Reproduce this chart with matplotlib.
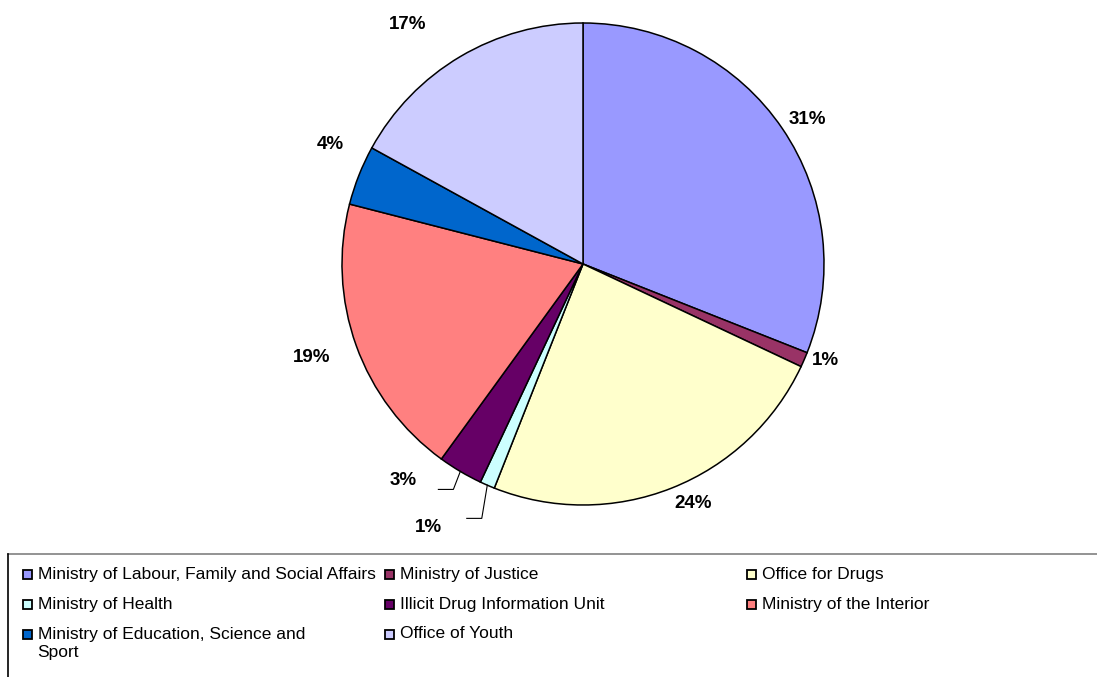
import numpy as np
import matplotlib.pyplot as plt
from matplotlib.patches import Rectangle

plt.rcParams['font.family'] = ['Liberation Sans', 'DejaVu Sans']

# budget shares by institution (%)
labels = [
    'Ministry of Labour, Family and Social Affairs',
    'Ministry of Justice',
    'Office for Drugs',
    'Ministry of Health',
    'Illicit Drug Information Unit',
    'Ministry of the Interior',
    'Ministry of Education, Science and\nSport',
    'Office of Youth',
]
shares = [31, 1, 24, 1, 3, 19, 4, 17]
colors = ['#9999FF', '#993366', '#FFFFCC', '#CCFFFF',
          '#660066', '#FF8080', '#0066CC', '#CCCCFF']

# label placement: radial distance (in radii) and clockwise nudge (deg)
lab_r = [1.107, 1.084, 1.092, 1.267, 1.167, 1.19, 1.159, 1.23]
lab_nudge = [1.3, -1.8, -3.1, 7.1, 9.2, 0.7, 3.7, -5.6]
# small slices get an elbow leader line: (radius, clockwise nudge)
leader = {3: (1.136, -1.7), 4: (1.079, -0.7)}

W, H = 1097, 677
fig = plt.figure(figsize=(W / 100, H / 100), dpi=100)
ax = fig.add_axes([0, 0, 1, 1])

cx, cy, R = 583, H - 264, 241
wedges, _ = ax.pie(shares, colors=colors, startangle=90, counterclock=False,
                   center=(cx, cy), radius=R,
                   wedgeprops=dict(edgecolor='black', linewidth=1.1))

for i, (w, v) in enumerate(zip(wedges, shares)):
    mid = np.deg2rad((w.theta1 + w.theta2) / 2)
    if i in leader:
        lr, ln = leader[i]
        b = mid - np.deg2rad(ln)
        ex, ey = cx + R * np.cos(mid), cy + R * np.sin(mid)
        kx, ky = cx + R * lr * np.cos(b), cy + R * lr * np.sin(b)
        ax.plot([ex, kx, kx - 15], [ey, ky, ky], color='black', lw=0.8)
    a = mid - np.deg2rad(lab_nudge[i])
    tx, ty = cx + R * lab_r[i] * np.cos(a), cy + R * lab_r[i] * np.sin(a)
    ax.text(tx, ty, f'{v}%', ha='center', va='center',
            fontsize=13.5, fontweight='bold')

# legend box, running off the right and bottom edges
ax.plot([8, W], [H - 554, H - 554], color='#808080', lw=1.2)
ax.plot([8, 8], [H - 554, 0], color='black', lw=1.2)

for i, (lab, col) in enumerate(zip(labels, colors)):
    row, c = divmod(i, 3)
    sx = 27 + c * 362
    sy = H - (574 + row * 30)
    ax.add_patch(Rectangle((sx - 4.5, sy - 4.5), 9, 9, facecolor=col,
                           edgecolor='black', lw=1.3))
    ax.text(sx + 10.5, sy + 7.5, lab, ha='left', va='top', fontsize=12.55,
            linespacing=1.3)

ax.set_xlim(0, W)
ax.set_ylim(0, H)
ax.set_aspect('auto')
ax.axis('off')

fig.savefig('out.png', dpi=100)
